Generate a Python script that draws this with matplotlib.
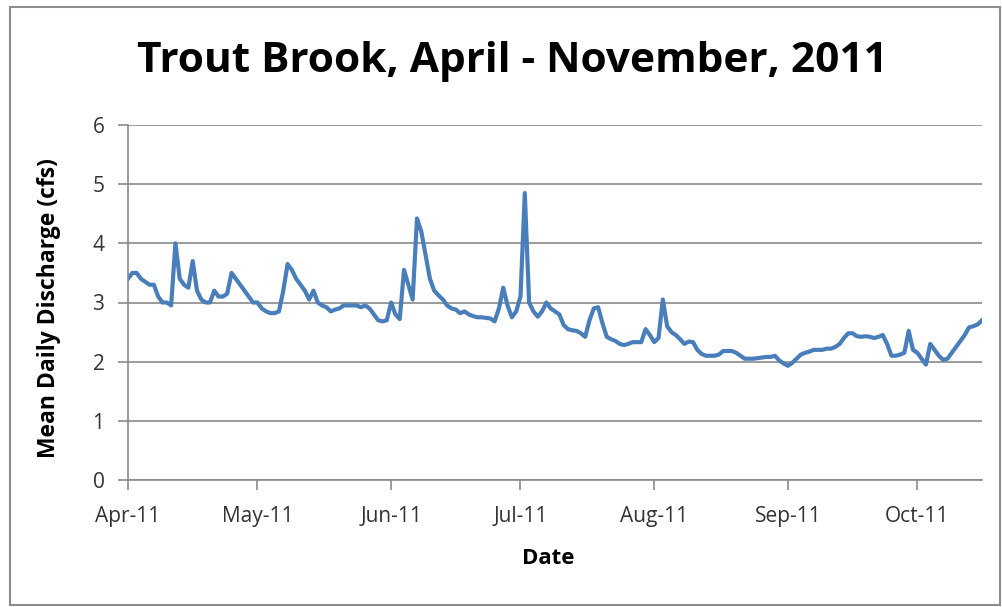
import matplotlib
matplotlib.use("Agg")
import matplotlib.pyplot as plt
from matplotlib.patches import Rectangle
import numpy as np
import datetime as dt

start_date = "2011-04-01"
end_date = "2011-10-16"
discharge = [
    3.4, 3.5, 3.5, 3.4, 3.35, 3.3, 3.3, 3.1, 3.0, 3.0,
    2.95, 4.0, 3.4, 3.3, 3.25, 3.7, 3.2, 3.05, 3.0, 3.0,
    3.2, 3.1, 3.1, 3.15, 3.5, 3.4, 3.3, 3.2, 3.1, 3.0,
    3.0, 2.9, 2.85, 2.82, 2.82, 2.85, 3.2, 3.65, 3.55, 3.4,
    3.3, 3.2, 3.05, 3.2, 3.0, 2.95, 2.92, 2.85, 2.88, 2.9,
    2.95, 2.95, 2.95, 2.95, 2.92, 2.95, 2.9, 2.8, 2.7, 2.68,
    2.7, 3.0, 2.8, 2.72, 3.55, 3.3, 3.05, 4.42, 4.2, 3.8,
    3.4, 3.2, 3.12, 3.05, 2.95, 2.9, 2.88, 2.82, 2.85, 2.8,
    2.77, 2.75, 2.75, 2.74, 2.73, 2.68, 2.9, 3.25, 2.95, 2.75,
    2.85, 3.1, 4.85, 3.0, 2.85, 2.76, 2.85, 3.0, 2.9, 2.85,
    2.8, 2.62, 2.55, 2.53, 2.52, 2.48, 2.42, 2.7, 2.9, 2.92,
    2.65, 2.42, 2.38, 2.35, 2.3, 2.28, 2.3, 2.33, 2.33, 2.33,
    2.55, 2.45, 2.33, 2.4, 3.05, 2.6, 2.5, 2.45, 2.38, 2.3,
    2.34, 2.33, 2.2, 2.13, 2.1, 2.1, 2.1, 2.12, 2.18, 2.18,
    2.18, 2.15, 2.1, 2.05, 2.05, 2.05, 2.06, 2.07, 2.08, 2.08,
    2.1, 2.02, 1.97, 1.93, 1.98, 2.05, 2.12, 2.15, 2.17, 2.2,
    2.2, 2.2, 2.22, 2.22, 2.25, 2.3, 2.4, 2.48, 2.48, 2.43,
    2.42, 2.43, 2.42, 2.4, 2.42, 2.45, 2.3, 2.1, 2.1, 2.12,
    2.15, 2.52, 2.2, 2.15, 2.05, 1.95, 2.3, 2.2, 2.1, 2.03,
    2.05, 2.15, 2.25, 2.35, 2.45, 2.58, 2.6, 2.63, 2.7,
]
tick_labels = ["Apr-11", "May-11", "Jun-11", "Jul-11", "Aug-11", "Sep-11", "Oct-11"]
tick_dates = ["2011-04-01", "2011-05-01", "2011-06-01", "2011-07-01",
              "2011-08-01", "2011-09-01", "2011-10-01"]
y_ticks = [0, 1, 2, 3, 4, 5, 6]

title = "Trout Brook, April - November, 2011"
xlabel = "Date"
ylabel = "Mean Daily Discharge (cfs)"

dates = np.arange(np.datetime64(start_date), np.datetime64(start_date) + len(discharge),
                  dtype="datetime64[D]").astype(dt.datetime)

font = ["Open Sans", "DejaVu Sans"]
plt.rcParams["font.family"] = font

fig = plt.figure(figsize=(10.02, 6.07), dpi=100)
fig.patches.append(Rectangle((10 / 1002, 2 / 607), 990 / 1002, 598 / 607,
                             transform=fig.transFigure, fill=False,
                             edgecolor="#8c8c8c", linewidth=1.5))

ax = fig.add_axes([128 / 1002, (607 - 480) / 607, 854 / 1002, 355 / 607])
ax.plot(dates, discharge, color="#4a7ebb", linewidth=3.0, solid_joinstyle="round")

ax.set_ylim(0, 6)
ax.set_yticks(y_ticks)
ax.set_xlim(np.datetime64(start_date).astype(dt.datetime),
            np.datetime64(end_date).astype(dt.datetime))
ax.set_xticks([np.datetime64(d).astype(dt.datetime) for d in tick_dates])
ax.set_xticklabels(tick_labels)

ax.grid(axis="y", color="#8a8a8a", linewidth=1.2)
ax.set_axisbelow(True)
for s in ["top", "right"]:
    ax.spines[s].set_visible(False)
for s in ["left", "bottom"]:
    ax.spines[s].set_color("#8a8a8a")
    ax.spines[s].set_linewidth(1.2)
ax.tick_params(axis="both", colors="#8a8a8a", labelcolor="#333333",
               labelsize=15, length=7, width=1.2)
ax.tick_params(axis="x", pad=12)
ax.tick_params(axis="y", pad=10)

fig.text(512 / 1002, 1 - 62 / 607, title, ha="center", va="center",
         fontsize=30.5, fontweight="bold", color="black")
fig.text(548 / 1002, 1 - 558 / 607, xlabel, ha="center", va="center",
         fontsize=16, fontweight="bold", color="black")
fig.text(49 / 1002, 1 - 308 / 607, ylabel, ha="center", va="center",
         rotation=90, fontsize=16.5, fontweight="bold", color="black")

fig.savefig("out.png", dpi=100)
